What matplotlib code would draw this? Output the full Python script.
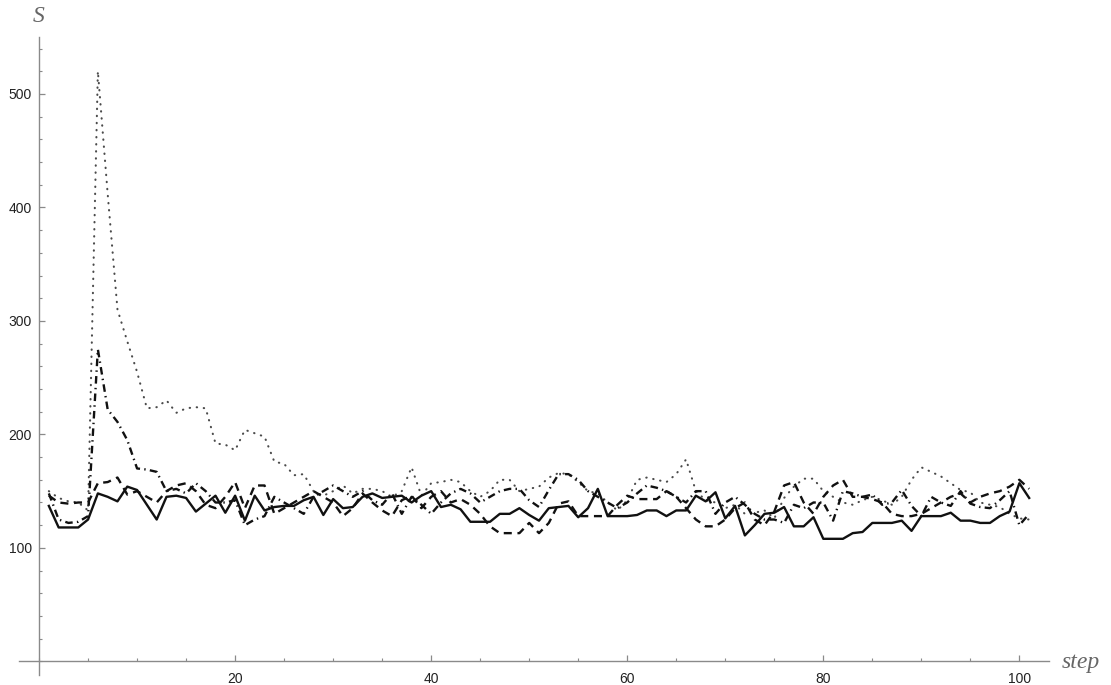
import matplotlib
matplotlib.use("Agg")
import matplotlib.pyplot as plt
from matplotlib.ticker import MultipleLocator, FixedLocator

steps = list(range(1, 102))

# solid line
s_solid = [137, 118, 118, 118, 125, 148, 145, 141, 154, 151,
           138, 125, 145, 146, 144, 132, 139, 146, 131, 146,
           124, 146, 133, 136, 137, 137, 142, 145, 129, 143,
           135, 136, 145, 148, 144, 145, 146, 140, 146, 150,
           136, 138, 134, 123, 123, 123, 130, 130, 135, 129,
           124, 135, 136, 137, 127, 135, 152, 128, 128, 128,
           129, 133, 133, 128, 133, 133, 146, 141, 149, 126,
           137, 111, 120, 130, 131, 136, 119, 119, 127, 108,
           108, 108, 113, 114, 122, 122, 122, 124, 115, 128,
           128, 128, 131, 124, 124, 122, 122, 128, 132, 157,
           144]

# dashed line
s_dashed = [146, 140, 139, 140, 140, 157, 158, 162, 147, 150,
            145, 140, 150, 155, 157, 150, 138, 135, 145, 158,
            135, 155, 155, 130, 135, 140, 145, 150, 145, 140,
            128, 135, 148, 140, 133, 128, 142, 146, 135, 145,
            150, 140, 143, 138, 130, 119, 113, 113, 113, 122,
            113, 122, 139, 141, 128, 128, 128, 128, 138, 146,
            143, 143, 143, 150, 145, 135, 125, 119, 119, 125,
            135, 140, 125, 120, 132, 155, 158, 140, 130, 145,
            155, 160, 145, 145, 143, 140, 130, 128, 128, 130,
            135, 140, 145, 148, 140, 145, 148, 150, 154, 160,
            152]

# dot-dashed line
s_dotdash = [148, 125, 122, 123, 128, 275, 222, 211, 195, 170,
             169, 167, 150, 152, 148, 157, 150, 140, 140, 142,
             120, 125, 128, 145, 140, 135, 130, 145, 150, 155,
             150, 145, 150, 142, 138, 148, 130, 145, 138, 130,
             140, 148, 152, 148, 140, 145, 150, 152, 152, 142,
             136, 151, 165, 165, 160, 150, 145, 140, 135, 140,
             148, 155, 153, 150, 145, 140, 150, 150, 130, 140,
             145, 138, 130, 125, 125, 122, 138, 135, 140, 140,
             124, 150, 148, 145, 147, 138, 140, 151, 137, 128,
             145, 140, 137, 150, 139, 136, 135, 142, 150, 120,
             130]

# dotted line
s_dotted = [150, 144, 141, 140, 133, 520, 412, 310, 282, 255,
            223, 224, 230, 219, 223, 224, 223, 192, 191, 186,
            204, 201, 198, 176, 174, 164, 165, 150, 146, 150,
            155, 148, 152, 152, 150, 145, 150, 171, 146, 157,
            158, 160, 158, 150, 145, 150, 160, 160, 150, 152,
            154, 162, 166, 165, 158, 150, 148, 140, 133, 142,
            160, 162, 160, 158, 165, 178, 150, 142, 140, 135,
            138, 130, 131, 133, 126, 144, 154, 161, 161, 150,
            145, 140, 138, 142, 145, 142, 138, 145, 160, 171,
            167, 163, 157, 151, 149, 140, 138, 136, 130, 126,
            125]

fig = plt.figure(figsize=(11.11, 6.85), dpi=100)
ax = fig.add_axes([0.0175, 0.0146, 0.9265, 0.9311])

ax.plot(steps, s_dotted, color="#4a4a4a", lw=1.5,
        linestyle=(0, (0.2, 3.2)), dash_capstyle="round")
ax.plot(steps, s_dotdash, color="#111111", lw=1.7,
        linestyle=(0, (3.2, 1.8, 0.6, 1.8)))
ax.plot(steps, s_dashed, color="#111111", lw=1.7,
        linestyle=(0, (3.4, 2.4)))
ax.plot(steps, s_solid, color="#111111", lw=1.7)

ax.set_xlim(-2, 103)
ax.set_ylim(-12, 550)

for side in ["top", "right"]:
    ax.spines[side].set_visible(False)
for side in ["left", "bottom"]:
    ax.spines[side].set_position(("data", 0))
    ax.spines[side].set_color("#8a8a8a")
    ax.spines[side].set_linewidth(1.0)

ax.xaxis.set_major_locator(FixedLocator([20, 40, 60, 80, 100]))
ax.xaxis.set_minor_locator(MultipleLocator(5))
ax.yaxis.set_major_locator(FixedLocator([100, 200, 300, 400, 500]))
ax.yaxis.set_minor_locator(MultipleLocator(20))

ax.tick_params(which="both", direction="in", color="#8a8a8a",
               labelsize=10, labelcolor="#222222")
ax.tick_params(which="major", length=4, width=0.9)
ax.tick_params(which="minor", length=2.5, width=0.8)
ax.tick_params(axis="x", pad=8)
ax.tick_params(axis="y", pad=5)
for lab in ax.get_xticklabels() + ax.get_yticklabels():
    lab.set_family("Liberation Sans")

ax.text(0, 568, "S", ha="center", va="center", fontsize=17,
        family="Liberation Serif", style="italic", color="#666666",
        clip_on=False)
ax.text(104.3, -1, "step", ha="left", va="center", fontsize=17,
        family="Liberation Serif", style="italic", color="#666666",
        clip_on=False)

fig.savefig("out.png", dpi=100)
